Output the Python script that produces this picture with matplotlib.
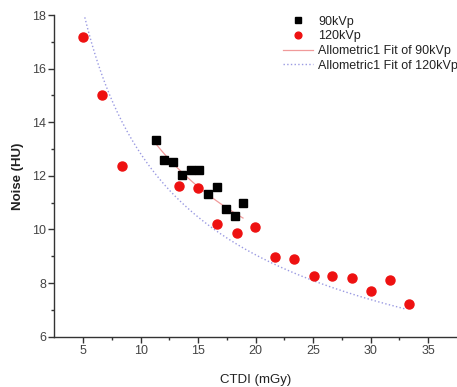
import numpy as np
import matplotlib
matplotlib.use("Agg")
import matplotlib.pyplot as plt

plt.rcParams['font.family'] = ['Liberation Sans', 'DejaVu Sans']

# 90 kVp data
ctdi_90 = [11.3, 12.07, 12.81, 13.57, 14.35, 15.1, 15.85, 16.66, 17.46, 18.17, 18.89]
noise_90 = [13.32, 12.58, 12.52, 12.03, 12.2, 12.2, 11.33, 11.57, 10.75, 10.51, 11.0]

# 120 kVp data
ctdi_120 = [5.0, 6.68, 8.36, 13.33, 15.0, 16.63, 18.37, 19.97, 21.64, 23.32,
            25.03, 26.65, 28.35, 30.0, 31.71, 33.36]
noise_120 = [17.17, 15.0, 12.37, 11.63, 11.56, 10.19, 9.88, 10.1, 8.98, 8.91,
             8.26, 8.26, 8.18, 7.71, 8.11, 7.22]

# Allometric1 fit parameters y = a * x^b
fit90_a, fit90_b, fit90_range = 40.3, -0.46, (11.3, 18.9)
fit120_a, fit120_b, fit120_range = 40.85, -0.503, (5.15, 33.1)

fig = plt.figure(figsize=(4.57, 3.87), dpi=100)
ax = fig.add_axes([54.3/457, 1 - 336.7/387, (457 - 54.3)/457, (336.7 - 15)/387])

ax.plot(ctdi_90, noise_90, 's', color='black', markersize=5.5, label='90kVp', zorder=3)
ax.plot(ctdi_120, noise_120, 'o', color='#ee1111', markersize=6.5, label='120kVp', zorder=3)

x90 = np.linspace(*fit90_range, 100)
ax.plot(x90, fit90_a * x90 ** fit90_b, '-', color='#f09a9a', lw=0.9,
        label='Allometric1 Fit of 90kVp', zorder=2)
x120 = np.linspace(*fit120_range, 200)
ax.plot(x120, fit120_a * x120 ** fit120_b, ':', color='#9a9ae2', lw=1.0,
        label='Allometric1 Fit of 120kVp', zorder=2)

ax.set_xlim(2.5, 37.5)
ax.set_ylim(6, 18)
ax.set_xticks([5, 10, 15, 20, 25, 30, 35])
ax.set_xticks(np.arange(7.5, 37.5, 5), minor=True)
ax.set_yticks([6, 8, 10, 12, 14, 16, 18])
ax.set_yticks([7, 9, 11, 13, 15, 17], minor=True)
for s in ['top', 'right']:
    ax.spines[s].set_visible(False)
for s in ['left', 'bottom']:
    ax.spines[s].set_color('#333333')
    ax.spines[s].set_linewidth(1.0)
ax.tick_params(which='major', direction='out', length=4, width=1, color='#333333',
               labelsize=9, labelcolor='#444444', pad=2)
ax.tick_params(which='minor', direction='out', length=2.5, width=1, color='#333333')

ax.set_xlabel('CTDI (mGy)', fontsize=9.5, color='#222222', labelpad=12)
ax.set_ylabel('Noise (HU)', fontsize=9.5, color='#222222', labelpad=6, fontweight='bold')

leg = fig.legend(*ax.get_legend_handles_labels(), loc='upper left',
                 bbox_to_anchor=(283/457, 1 - 15.5/387), frameon=False,
                 fontsize=9, handlelength=2.4, handletextpad=0.4,
                 labelspacing=0.22, borderaxespad=0.0, borderpad=0.0,
                 markerscale=0.75)
for t in leg.get_texts():
    t.set_color('#222222')

fig.savefig('out.png', dpi=100)
